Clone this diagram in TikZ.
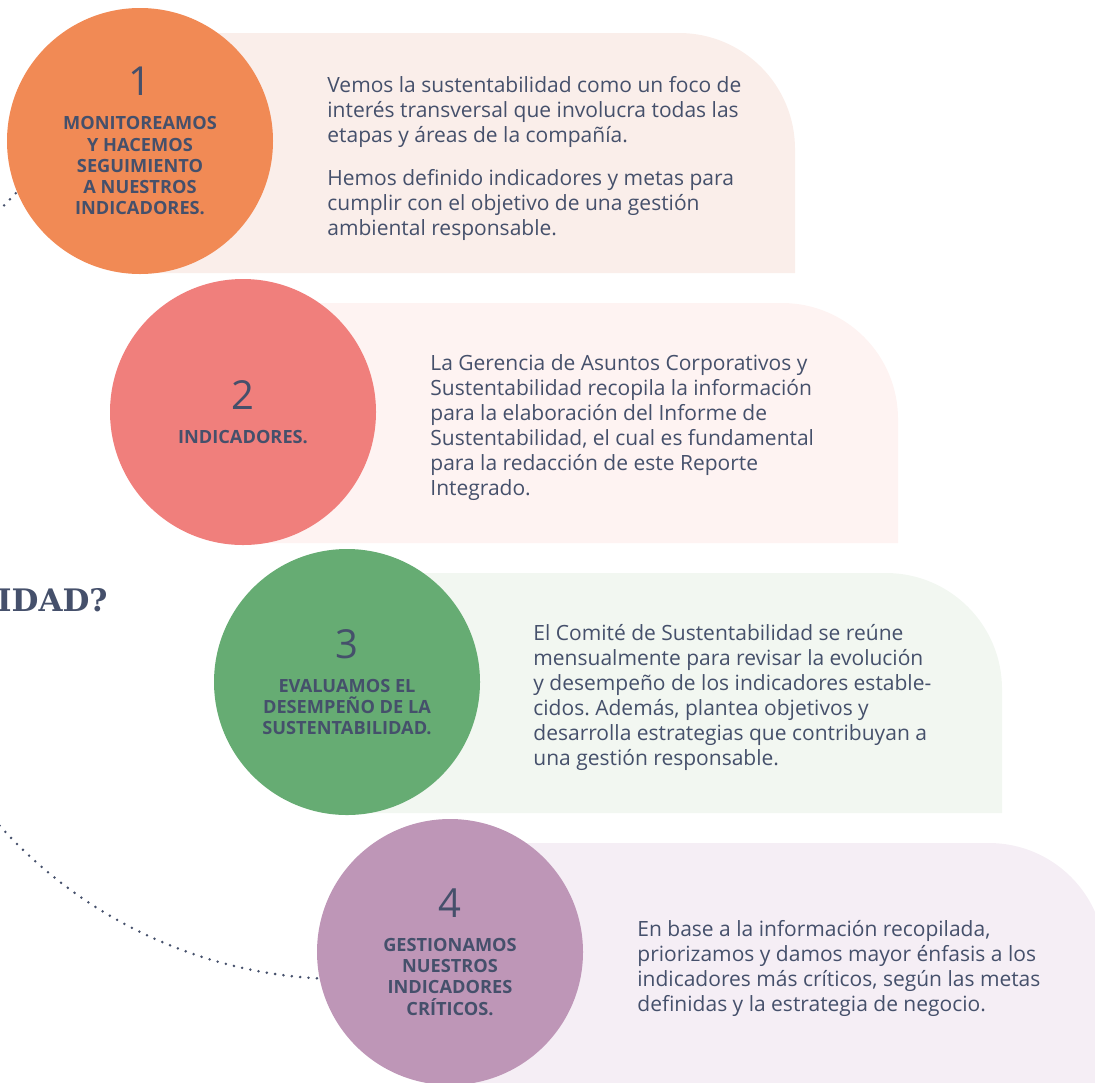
\documentclass[tikz,border=0pt]{standalone}
\usepackage{fontspec}
\setmainfont{Open Sans}
\newfontfamily\slabfont{DejaVu Serif}
\usetikzlibrary{positioning}
\frenchspacing

\definecolor{ink}{HTML}{45506B}
\definecolor{circ1}{HTML}{F18A55}
\definecolor{circ2}{HTML}{F07F7C}
\definecolor{circ3}{HTML}{66AC73}
\definecolor{circ4}{HTML}{BE96B7}
\definecolor{pan1}{HTML}{FAEEEA}
\definecolor{pan2}{HTML}{FEF3F2}
\definecolor{pan3}{HTML}{F2F7F1}
\definecolor{pan4}{HTML}{F5EEF5}

\newcommand{\stepnum}[1]{{\mdseries\fontsize{20}{20}\selectfont #1}\\[6.5pt]}

\begin{document}
\begin{tikzpicture}[
  x=0.5pt, y=-0.5pt,
  stepcirc/.style={circle, minimum size=133pt, inner sep=0pt, align=center,
    text=ink, font=\bfseries\fontsize{9.1}{10.6}\selectfont},
  steptext/.style={anchor=west, align=left, inner sep=0pt, text=ink,
    font=\fontsize{10.5}{12.5}\selectfont},
  dotline/.style={draw=ink, line width=1.4pt, line cap=round,
    dash pattern=on 0pt off 4.2pt}
]
  \useasboundingbox (0,0) rectangle (1095,1082);
  \clip (0,0) rectangle (1095,1082);

  % dotted guide arc
  \draw[dotline] (343,518) ++(230:461) arc[start angle=230, end angle=92, radius=461];

  % panels
  \foreach \px/\py/\col in {140/33/pan1, 243/303/pan2, 347/573/pan3, 450/843/pan4}
    \fill[\col] (\px,\py+240) -- (\px,\py) -- (\px+539,\py)
      arc[start angle=-90, end angle=0, radius=116] -- (\px+655,\py+240) -- cycle;

  \node[font=\slabfont\bfseries\fontsize{15.5}{15.5}\selectfont, text=ink,
    anchor=east, inner sep=0pt] (title) at (108,600) {IDAD?};

  % steps
  \node[stepcirc, fill=circ1] (c1) at (140,141)
    {\stepnum{1}MONITOREAMOS\\Y HACEMOS\\SEGUIMIENTO\\A NUESTROS\\INDICADORES.};
  \node[stepcirc, fill=circ2] (c2) at (243,412)
    {\stepnum{2}INDICADORES.};
  \node[stepcirc, fill=circ3] (c3) at (347,682)
    {\stepnum{3}EVALUAMOS EL\\DESEMPEÑO DE LA\\SUSTENTABILIDAD.};
  \node[stepcirc, fill=circ4] (c4) at (450,952)
    {\stepnum{4}GESTIONAMOS\\NUESTROS\\INDICADORES\\CRÍTICOS.};

  % texts
  \node[steptext] (t1) at (327,158)
    {Vemos la sustentabilidad como un foco de\\interés transversal que involucra todas las\\etapas y áreas de la compañía.\\[9pt]
     Hemos definido indicadores y metas para\\cumplir con el objetivo de una gestión\\ambiental responsable.};
  \node[steptext] (t2) at (430,428)
    {La Gerencia de Asuntos Corporativos y\\Sustentabilidad recopila la información\\para la elaboración del Informe de\\Sustentabilidad, el cual es fundamental\\para la redacción de este Reporte\\Integrado.};
  \node[steptext] (t3) at (533,697)
    {El Comité de Sustentabilidad se reúne\\mensualmente para revisar la evolución\\y desempeño de los indicadores estable-\\cidos. Además, plantea objetivos y\\desarrolla estrategias que contribuyan a\\una gestión responsable.};
  \node[steptext] (t4) at (637,968)
    {En base a la información recopilada,\\priorizamos y damos mayor énfasis a los\\indicadores más críticos, según las metas\\definidas y la estrategia de negocio.};
\end{tikzpicture}
\end{document}
